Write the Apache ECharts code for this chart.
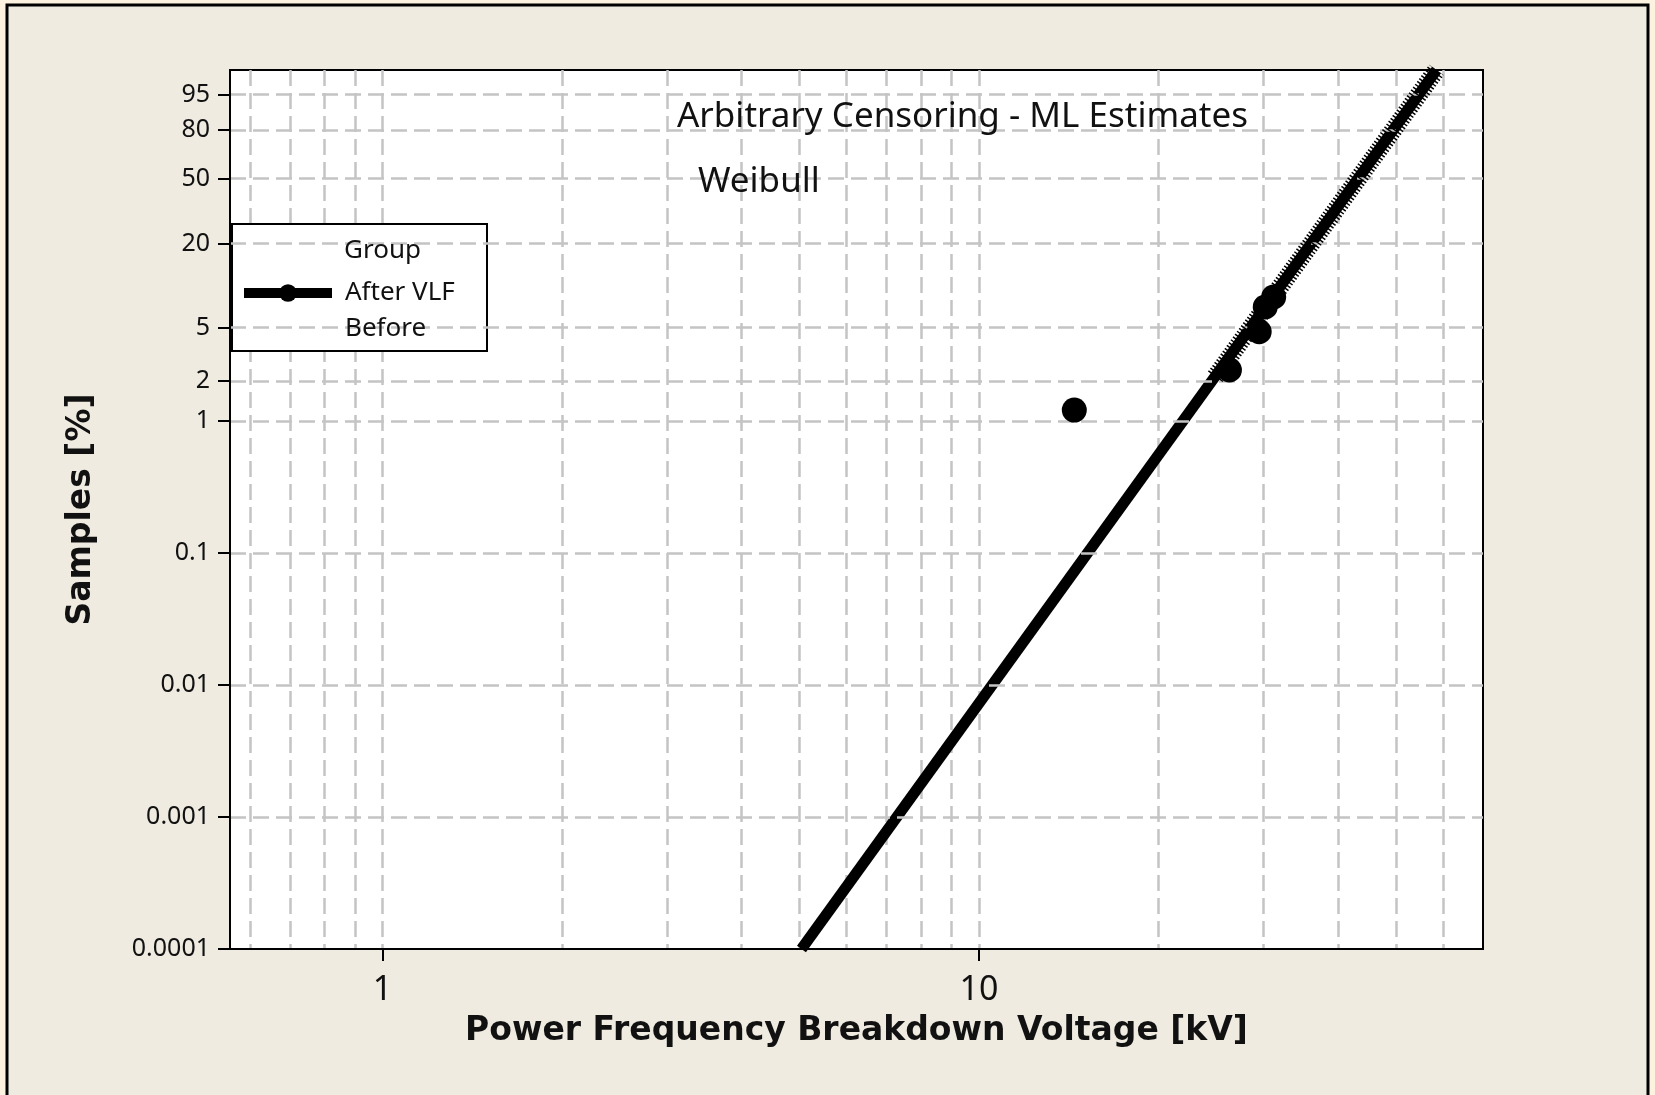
<!DOCTYPE html>
<html>
<head>
<meta charset="utf-8">
<script src="https://cdn.jsdelivr.net/npm/echarts@6/dist/echarts.min.js"></script>
<style>
html,body{margin:0;padding:0;background:#fdf2e0;}
#chart{width:1655px;height:1095px;}
</style>
</head>
<body>
<div id="chart"></div>
<script>
// ---- data ----
const yTickPercents = [0.0001, 0.001, 0.01, 0.1, 1, 2, 5, 20, 50, 80, 95];
const yTickLabels = ['0.0001', '0.001', '0.01', '0.1', '1', '2', '5', '20', '50', '80', '95'];
const yRangePercent = [0.0001, 99];
const xTickValues = [1, 10];
const xTickLabels = ['1', '10'];
const xGridValues = [0.6, 0.7, 0.8, 0.9, 1, 2, 3, 4, 5, 6, 7, 8, 9, 10, 20, 30, 40, 50, 60];
const xRange = [0.555, 70];

const afterVlfKv = [14.45, 26.3, 29.5, 30.2, 31.2];
const afterVlfPct = [1.21, 2.42, 4.67, 7.1, 8.4];
const fitKv = [5.04, 58.5];
const fitPct = [0.0001, 99];
const beforeKv = [24.9, 58.5];
const beforePct = [2.15, 99];

// ---- probability-paper transforms ----
const wb = p => Math.log(-Math.log(1 - p / 100));   // Weibull scale
const lg = v => Math.log10(v);                        // log scale
const pairs = (xs, ys) => xs.map((x, i) => [lg(x), wb(ys[i])]);

const yTicksT = yTickPercents.map(wb);
const xTicksT = xTickValues.map(lg);
const xGridT = xGridValues.map(lg);

const FONT = "'Noto Sans', 'Open Sans', sans-serif";
const BOLD = "'DejaVu Sans', 'Noto Sans', sans-serif";
const GRIDLINE = { color: '#c4c4c4', width: 2.5, type: [16, 7] };
const chart = echarts.init(document.getElementById('chart'));

chart.setOption({
  backgroundColor: '#fdf2e0',
  animation: false,
  title: [
    { text: 'Arbitrary Censoring - ML Estimates', left: 677, top: 100, padding: 0,
      textStyle: { fontFamily: FONT, fontSize: 35, fontWeight: 'normal', color: '#111' } },
    { text: 'Weibull', left: 698, top: 165, padding: 0,
      textStyle: { fontFamily: FONT, fontSize: 35, fontWeight: 'normal', color: '#111' } }
  ],
  graphic: [
    { type: 'rect', z: -10, silent: true,
      shape: { x: 7, y: 5, width: 1641, height: 1110 },
      style: { fill: '#efebe1', stroke: '#000', lineWidth: 3 } },
    { type: 'rect', z: 3, silent: true,
      shape: { x: 232, y: 224, width: 255, height: 127 },
      style: { fill: '#fff', stroke: '#000', lineWidth: 2 } },
    { type: 'text', z: 5, silent: true, left: 344, top: 238,
      style: { text: 'Group', fontFamily: FONT, fontSize: 26, fill: '#111' } }
  ],
  legend: {
    orient: 'vertical', left: 239, top: 280, padding: 0,
    itemWidth: 88, itemHeight: 22, itemGap: 10,
    selectedMode: false,
    textStyle: { fontFamily: FONT, fontSize: 26, color: '#111', padding: [0, 0, 0, 8] },
    data: [
      { name: 'After VLF', lineStyle: { width: 10, color: '#000' }, itemStyle: { color: '#000' } },
      { name: 'Before', icon: 'rect', itemStyle: { opacity: 0 }, lineStyle: { opacity: 0 } }
    ]
  },
  grid: {
    left: 230, top: 70, width: 1253, height: 879,
    show: true, backgroundColor: '#fff', borderColor: '#000', borderWidth: 2
  },
  xAxis: [
    {
      type: 'value', min: lg(xRange[0]), max: lg(xRange[1]), z: 3,
      name: 'Power Frequency Breakdown Voltage [kV]', nameLocation: 'middle', nameGap: 66,
      nameTextStyle: { fontFamily: BOLD, fontSize: 33, fontWeight: 'bold', color: '#111' },
      axisLine: { show: true, onZero: false, lineStyle: { color: '#000', width: 2 } },
      axisTick: { show: true, customValues: xTicksT, length: 12, lineStyle: { color: '#000', width: 2 } },
      axisLabel: { show: true, customValues: xTicksT, margin: 24,
        fontFamily: FONT, fontSize: 34, color: '#111',
        formatter: v => { const i = xTicksT.findIndex(t => Math.abs(t - v) < 1e-6); return i >= 0 ? xTickLabels[i] : ''; } },
      splitLine: { show: false }
    },
    {
      type: 'value', min: lg(xRange[0]), max: lg(xRange[1]), gridIndex: 0, position: 'bottom',
      axisLine: { show: false, onZero: false },
      axisTick: { show: false, customValues: xGridT },
      axisLabel: { show: false, customValues: xGridT },
      splitLine: { show: true, lineStyle: GRIDLINE }
    }
  ],
  yAxis: {
    type: 'value', min: wb(yRangePercent[0]), max: wb(yRangePercent[1]), z: 3,
    name: 'Samples [%]', nameLocation: 'middle', nameGap: 132,
    nameTextStyle: { fontFamily: BOLD, fontSize: 33, fontWeight: 'bold', color: '#111' },
    axisLine: { show: true, onZero: false, lineStyle: { color: '#000', width: 2 } },
    axisTick: { show: true, customValues: yTicksT, length: 12, lineStyle: { color: '#000', width: 2 } },
    axisLabel: { show: true, customValues: yTicksT, margin: 20,
      fontFamily: FONT, fontSize: 25, color: '#111',
      formatter: v => { const i = yTicksT.findIndex(t => Math.abs(t - v) < 1e-6); return i >= 0 ? yTickLabels[i] : ''; } },
    splitLine: { show: true, showMinLine: false, lineStyle: GRIDLINE }
  },
  series: [
    {
      name: 'After VLF', type: 'line', xAxisIndex: 0, data: pairs(fitKv, fitPct),
      symbol: 'circle', showSymbol: false, z: 2,
      lineStyle: { color: '#000', width: 11, cap: 'butt' }, itemStyle: { color: '#000' }
    },
    {
      name: 'Before', type: 'line', xAxisIndex: 0, data: pairs(beforeKv, beforePct),
      symbol: 'none', z: 3,
      lineStyle: { color: '#000', width: 18, type: [1.5, 2], cap: 'butt' }, itemStyle: { color: '#000' }
    },
    {
      name: 'After VLF', type: 'scatter', xAxisIndex: 0, data: pairs(afterVlfKv, afterVlfPct),
      symbol: 'circle', symbolSize: 25, z: 4,
      itemStyle: { color: '#000', opacity: 1 }
    }
  ]
});
</script>
</body>
</html>
